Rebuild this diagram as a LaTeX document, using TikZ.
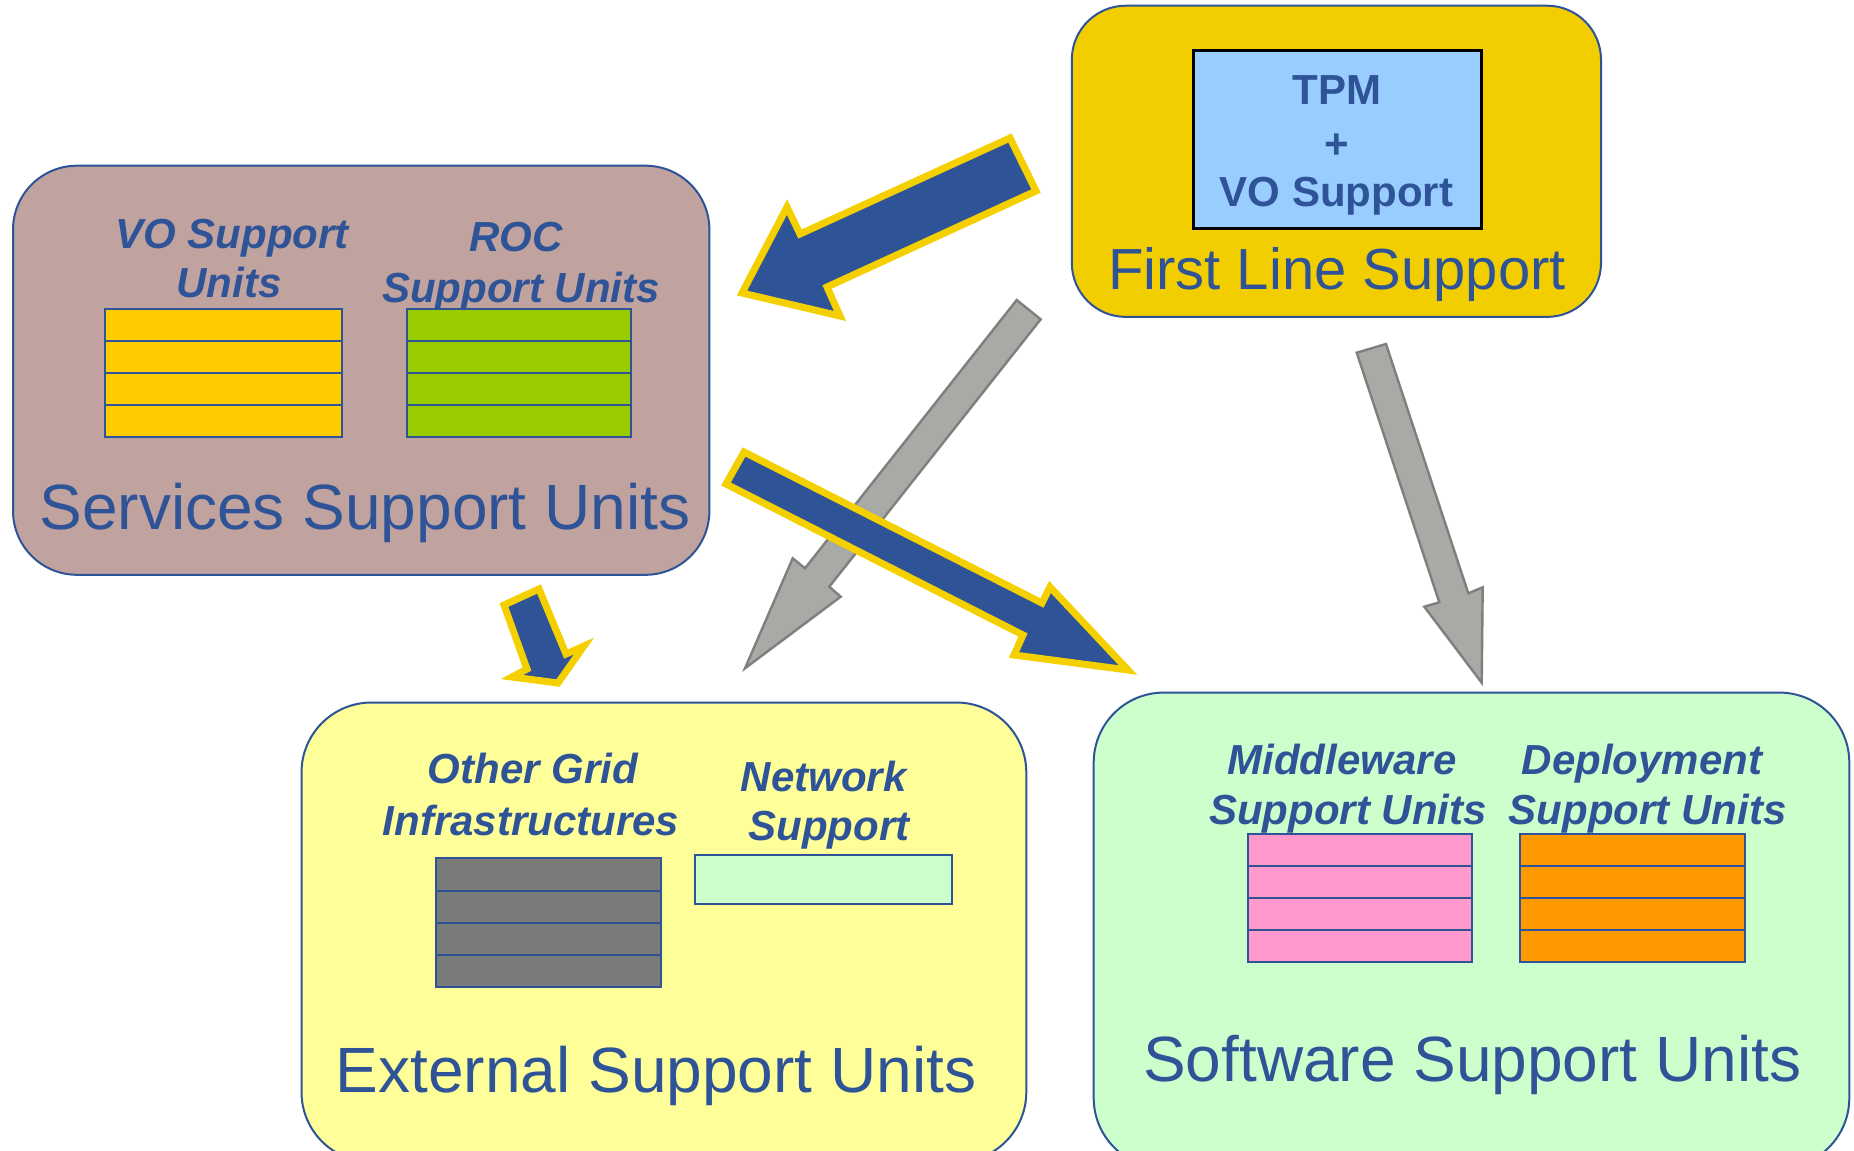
\documentclass[tikz,border=0pt]{standalone}
\usepackage{fontspec}
\setmainfont{Liberation Sans}
\definecolor{tblue}{RGB}{46,84,151}
\definecolor{flgold}{RGB}{242,206,0}
\definecolor{ayellow}{RGB}{245,208,0}
\definecolor{svcfill}{RGB}{192,162,158}
\definecolor{extfill}{RGB}{255,255,153}
\definecolor{swfill}{RGB}{204,255,204}
\definecolor{tpmfill}{RGB}{153,204,255}
\definecolor{voyel}{RGB}{255,204,0}
\definecolor{rocgreen}{RGB}{153,204,0}
\definecolor{ogigray}{RGB}{122,123,120}
\definecolor{mwpink}{RGB}{255,153,204}
\definecolor{deporange}{RGB}{255,153,0}
\definecolor{garrowfill}{RGB}{168,170,166}
\definecolor{garrowline}{RGB}{127,127,127}
\newcommand{\unitstack}[5]{%
  \draw[stackline, fill=#5] (#1,#2) rectangle (#3,#4);
  \foreach \f in {0.25,0.5,0.75}
    \draw[stackline] (#1,{#2+\f*(#4-#2)}) -- (#3,{#2+\f*(#4-#2)});
}
\begin{document}
\begin{tikzpicture}[x=0.5pt,y=-0.5pt,
  groupbox/.style={draw=tblue, line width=1pt, inner sep=0pt, rectangle},
  stackline/.style={draw=tblue, line width=1pt},
  biglabel/.style={text=tblue, font=\fontsize{32}{38}\selectfont, anchor=base, inner sep=0pt},
  sublabel/.style={text=tblue, font=\fontsize{21}{25}\selectfont\bfseries\itshape, anchor=base, inner sep=0pt},
  tpmlabel/.style={text=tblue, font=\fontsize{21}{25}\selectfont\bfseries, inner sep=0pt},
  bluearrow/.style={fill=tblue, draw=ayellow, line width=3.5pt, line join=miter},
  grayarrow/.style={fill=garrowfill, draw=garrowline, line width=1.2pt, line join=miter}
]
\clip (0,0) rectangle (1854,1151);
\fill[white] (0,0) rectangle (1854,1151);

% group boxes
\node[groupbox, fill=svcfill, rounded corners=32pt, minimum width=348.2pt, minimum height=204.55pt] (services) at (361.2,370.25) {};
\node[groupbox, fill=flgold, rounded corners=27pt, minimum width=264.6pt, minimum height=155.6pt] (firstline) at (1336.4,161.3) {};
\node[groupbox, fill=extfill, rounded corners=35pt, minimum width=362.4pt, minimum height=229.75pt] (external) at (663.9,932.25) {};
\node[groupbox, fill=swfill, rounded corners=35pt, minimum width=377.8pt, minimum height=237.7pt] (software) at (1471.5,930.3) {};

% First line support
\node[draw=black, line width=1.5pt, fill=tpmfill, inner sep=0pt, minimum width=144pt, minimum height=88.55pt] (tpmbox) at (1337,139.45) {};
\node[tpmlabel, anchor=base] (tpm) at (1336.7,104) {TPM};
\node[tpmlabel] (plus) at (1336.7,146) {+};
\node[tpmlabel, anchor=base] (vosupp) at (1336.5,206.7) {VO Support};
\node[biglabel, font=\fontsize{29}{34}\selectfont] (fltext) at (1337,289.7) {First Line Support};

% Services support units
\node[sublabel] (vo1) at (232,248) {VO Support};
\node[sublabel] (vo2) at (229,297.7) {Units};
\node[sublabel] (roc1) at (516,251.4) {ROC};
\node[sublabel] (roc2) at (521,302) {Support Units};
\unitstack{105.2}{308.5}{341.7}{437}{voyel}
\unitstack{406.7}{308.5}{631.4}{437}{rocgreen}
\node[biglabel] (svctext) at (365,529) {Services Support Units};

% External support units
\node[sublabel] (ogi1) at (532.7,783.2) {Other Grid};
\node[sublabel] (ogi2) at (531,835.6) {Infrastructures};
\node[sublabel] (net1) at (823.7,791) {Network};
\node[sublabel] (net2) at (829,840) {Support};
\unitstack{436.3}{858.4}{661}{987.4}{ogigray}
\draw[stackline, fill=swfill] (695.2,855.4) rectangle (951.8,903.5);
\node[biglabel] (exttext) at (656,1092.3) {External Support Units};

% Software support units
\node[sublabel] (mw1) at (1342,774) {Middleware};
\node[sublabel] (mw2) at (1348,824.6) {Support Units};
\node[sublabel] (dep1) at (1642,774) {Deployment};
\node[sublabel] (dep2) at (1647.7,824.6) {Support Units};
\unitstack{1248}{833.8}{1472}{961.8}{mwpink}
\unitstack{1520}{833.8}{1744.6}{961.8}{deporange}
\node[biglabel] (swtext) at (1472.3,1081.3) {Software Support Units};

% gray arrows
\draw[grayarrow] (1016.7,300) -- (1040.7,319.3) -- (829.3,586.7) -- (840.7,596.7) -- (745,668.3) -- (792.7,558.3) -- (805,568.3) -- cycle;
\draw[grayarrow] (1356.7,352.7) -- (1386,344) -- (1468.3,593.3) -- (1482.7,587.3) -- (1481.7,682.7) -- (1424.3,606.7) -- (1439.3,602.3) -- cycle;

% blue arrows
\draw[bluearrow] (1010,138) -- (1036,191) -- (827,287) -- (840,316) -- (742,293) -- (787,207) -- (800,234) -- cycle;
\draw[bluearrow] (744,452) -- (726,484) -- (1023,635) -- (1014,655) -- (1128,670) -- (1050,587) -- (1042,603) -- cycle;
\draw[bluearrow] (504,605) -- (539,589) -- (566,654) -- (584,646) -- (558,683) -- (512,677) -- (527,669) -- cycle;
\end{tikzpicture}
\end{document}
